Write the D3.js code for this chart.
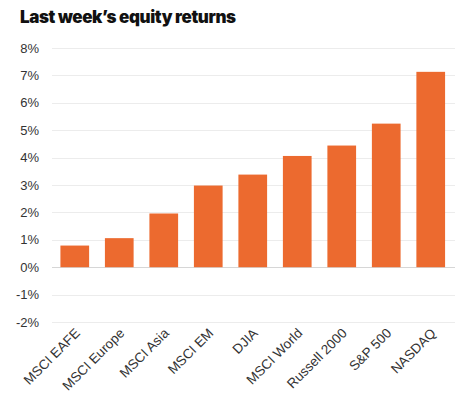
<!DOCTYPE html>
<html>
<head>
<meta charset="utf-8">
<style>
body { margin: 0; background: #fff; }
.grid line { stroke: #ececec; stroke-width: 1; }
.axis text { font-family: "Liberation Sans", Arial, sans-serif; font-size: 13px; fill: #333; }
.axis--x text { font-size: 13.5px; }
</style>
</head>
<body>
<svg width="471" height="411"></svg>
<script src="https://d3js.org/d3.v7.min.js"></script>
<script>
// data
var categories = ["MSCI EAFE", "MSCI Europe", "MSCI Asia", "MSCI EM", "DJIA",
                  "MSCI World", "Russell 2000", "S&P 500", "NASDAQ"];
var returns = [0.79, 1.06, 1.96, 2.98, 3.38, 4.06, 4.44, 5.24, 7.13];
var yTicks = [-2, -1, 0, 1, 2, 3, 4, 5, 6, 7, 8];

var svg = d3.select("svg");

var x = d3.scaleBand()
    .domain(categories)
    .range([52.5, 453])
    .paddingInner(0.355)
    .paddingOuter(0.178);

var y = d3.scaleLinear().domain([-2, 8]).range([322, 48]);

svg.append("text")
    .attr("x", 20)
    .attr("y", 23)
    .attr("font-family", "Inter, 'DejaVu Sans', sans-serif")
    .attr("font-weight", 900)
    .attr("font-size", 17)
    .attr("letter-spacing", -0.4)
    .attr("fill", "#111")
    .text("Last week\u2019s equity returns");

// gridlines
var grid = svg.append("g").attr("class", "grid");
grid.selectAll("line")
    .data(yTicks)
    .enter().append("line")
    .attr("x1", 52)
    .attr("x2", 455)
    .attr("y1", function(d) { return Math.round(y(d)) + 0.5; })
    .attr("y2", function(d) { return Math.round(y(d)) + 0.5; })
    .style("stroke", function(d) { return d === 0 ? "#d6d6d6" : null; });

// y axis labels
var yAxis = d3.axisLeft(y)
    .tickValues(yTicks)
    .tickSize(0)
    .tickPadding(0)
    .tickFormat(function(d) { return d + "%"; });

svg.append("g")
    .attr("class", "axis axis--y")
    .attr("transform", "translate(39,0)")
    .call(yAxis)
    .call(function(g) { g.select(".domain").remove(); });

svg.append("g")
    .selectAll("rect")
    .data(returns)
    .enter().append("rect")
    .attr("x", function(d, i) { return x(categories[i]); })
    .attr("width", x.bandwidth())
    .attr("y", function(d) { return y(Math.max(0, d)); })
    .attr("height", function(d) { return Math.abs(y(d) - y(0)); })
    .attr("fill", "#ec6a2f");

// x axis labels, rotated
var xAxis = d3.axisBottom(x).tickSize(0).tickPadding(0);
var gx = svg.append("g")
    .attr("class", "axis axis--x")
    .attr("transform", "translate(0,328)")
    .call(xAxis);
gx.select(".domain").remove();
gx.selectAll("text")
    .attr("text-anchor", "end")
    .attr("dy", null)
    .attr("transform", "translate(6,6) rotate(-45)");
</script>
</body>
</html>
